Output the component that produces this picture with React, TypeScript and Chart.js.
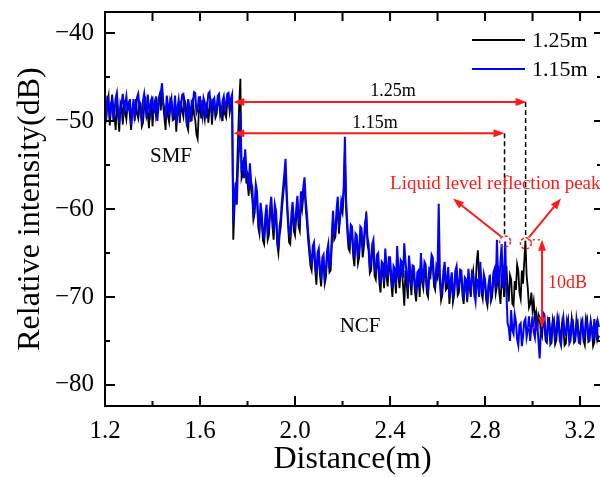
import React, { useEffect, useRef } from "react";
import { Chart, registerables } from "chart.js";

Chart.register(...registerables);

const FONT = "'Liberation Serif', 'Times New Roman', serif";

// sampling grid of the traces (distance in m)
const DIST_START = 1.2;
const DIST_STEP = 0.005;

// relative intensity (dB), one value per sample, 1.200 ... 3.280 m (one row per 0.1 m)
const TRACE_125M = [
  -48.9, -50.0, -48.0, -47.2, -50.5, -48.8, -47.0, -48.5, -49.6, -51.0, -47.8, -49.3, -51.2, -48.0, -48.5, -50.4, -47.6, -49.0, -49.8, -48.2,
  -47.9, -49.5, -51.0, -48.6, -48.3, -50.0, -47.5, -49.2, -49.7, -47.8, -48.0, -50.6, -50.2, -48.4, -47.2, -49.5, -49.0, -50.8, -48.1, -47.6,
  -50.6, -48.4, -47.8, -49.5, -48.9, -47.5, -47.0, -48.8, -46.5, -48.2, -49.6, -51.0, -48.0, -49.4, -50.1, -48.3, -47.5, -49.9, -49.8, -48.0,
  -51.2, -49.0, -48.3, -50.2, -47.7, -48.9, -49.5, -47.6, -48.1, -50.5, -51.0, -48.8, -48.6, -50.0, -47.4, -49.3, -49.9, -51.5, -52.0, -49.0,
  -48.0, -49.7, -47.6, -48.9, -49.8, -48.1, -47.9, -50.2, -48.6, -47.4, -50.4, -48.6, -47.8, -49.6, -49.2, -47.7, -47.6, -49.4, -48.8, -50.0,
  -47.9, -49.2, -49.6, -47.8, -47.3, -49.0, -48.2, -47.5, -63.5, -60.0, -58.0, -56.5, -52.0, -48.0, -45.2, -56.5, -56.0, -54.2, -54.0, -57.0,
  -57.0, -58.5, -55.5, -57.8, -58.8, -61.2, -60.5, -58.0, -59.0, -62.0, -62.8, -60.0, -61.5, -63.6, -64.0, -61.5, -60.0, -63.5, -63.0, -60.5,
  -59.5, -62.0, -63.5, -60.5, -61.0, -64.0, -65.0, -63.0, -62.0, -60.0, -58.5, -57.0, -55.5, -59.0, -61.5, -63.8, -64.0, -61.5, -60.0, -62.5,
  -63.0, -61.0, -59.2, -62.0, -62.5, -59.0, -60.0, -58.5, -57.2, -60.0, -61.5, -63.5, -65.0, -66.5, -67.0, -65.0, -64.5, -67.0, -68.6, -66.0,
  -65.0, -67.5, -68.8, -66.3, -66.0, -68.5, -67.8, -65.5, -64.8, -67.2, -67.0, -64.0, -61.0, -63.5, -63.2, -61.0, -59.5, -62.8, -60.5, -60.0,
  -60.5, -58.5, -53.5, -60.0, -62.5, -64.5, -64.8, -62.5, -63.0, -65.4, -66.5, -63.5, -63.8, -66.2, -65.5, -63.0, -63.0, -65.5, -64.3, -62.5,
  -60.3, -64.0, -64.8, -67.3, -67.0, -65.0, -64.5, -67.6, -68.0, -66.0, -66.0, -68.4, -69.5, -66.8, -67.0, -69.0, -65.2, -67.6, -68.8, -66.3,
  -66.5, -68.4, -70.0, -67.4, -67.8, -69.6, -65.0, -67.6, -69.0, -66.8, -67.0, -68.8, -71.0, -67.0, -68.3, -70.2, -66.0, -68.0, -69.8, -67.2,
  -67.5, -69.4, -70.5, -68.0, -68.0, -70.0, -66.0, -68.3, -69.0, -66.8, -67.2, -69.6, -70.0, -67.6, -67.8, -66.0, -66.2, -68.8, -69.2, -67.3,
  -67.8, -66.0, -68.3, -70.4, -69.8, -67.8, -66.8, -69.2, -69.0, -67.4, -70.8, -69.0, -67.8, -70.6, -69.8, -67.6, -67.0, -69.8, -69.5, -67.5,
  -67.6, -69.8, -70.8, -68.4, -68.5, -70.6, -67.3, -69.0, -70.0, -67.8, -67.0, -69.5, -69.0, -66.0, -64.7, -68.0, -67.2, -69.5, -70.2, -68.0,
  -68.5, -70.4, -71.0, -68.6, -68.0, -70.5, -70.0, -67.8, -67.3, -69.6, -68.8, -66.5, -69.5, -70.8, -68.0, -66.4, -70.0, -68.2, -66.5, -69.0,
  -70.5, -67.5, -68.0, -70.8, -71.0, -68.2, -69.2, -66.3, -67.0, -69.5, -70.2, -67.0, -68.5, -66.0, -63.6, -67.5, -69.0, -71.2, -70.8, -69.5,
  -71.5, -70.5, -72.5, -71.8, -73.8, -72.0, -72.4, -74.0, -74.5, -72.6, -73.0, -75.0, -75.2, -73.3, -72.3, -74.5, -74.0, -72.6, -73.6, -75.4,
  -75.0, -73.2, -72.5, -74.6, -74.2, -72.8, -73.8, -75.5, -75.3, -73.4, -72.6, -74.5, -74.0, -72.4, -73.5, -75.2, -75.0, -73.1, -72.8, -74.7,
  -74.4, -72.8, -73.4, -75.0, -75.5, -73.3, -72.6, -74.4, -74.2, -72.7, -73.7, -75.6, -75.2, -73.4, -72.9, -74.8, -74.4,
];

const TRACE_115M = [
  -48.4, -49.3, -47.1, -48.2, -49.6, -48.0, -47.6, -49.9, -48.9, -47.4, -46.8, -48.7, -50.2, -48.5, -47.9, -46.9, -49.0, -48.1, -47.2, -48.8,
  -48.6, -47.5, -50.4, -48.9, -47.5, -49.5, -48.8, -47.3, -46.9, -48.4, -49.4, -50.0, -47.7, -46.9, -48.3, -49.6, -47.0, -48.5, -49.2, -47.6,
  -47.4, -49.0, -48.6, -47.2, -50.0, -48.4, -47.3, -46.8, -45.7, -47.9, -48.5, -49.8, -47.1, -48.2, -49.3, -47.5, -47.8, -49.4, -48.9, -47.1,
  -50.3, -48.5, -47.6, -49.2, -48.2, -47.0, -46.9, -48.8, -49.0, -50.6, -47.5, -48.4, -50.1, -47.8, -48.0, -46.7, -46.8, -49.1, -48.7, -47.3,
  -47.3, -48.6, -49.5, -47.4, -47.9, -49.7, -48.4, -46.9, -46.7, -48.3, -49.1, -47.6, -47.4, -49.0, -48.6, -47.1, -46.9, -48.5, -49.3, -47.7,
  -47.2, -48.6, -48.0, -46.9, -46.8, -48.3, -47.5, -47.0, -61.5, -58.5, -57.0, -59.5, -55.0, -53.0, -49.0, -55.8, -54.5, -56.5, -53.2, -55.5,
  -56.0, -57.8, -54.8, -56.9, -57.5, -60.5, -59.8, -57.2, -58.0, -61.2, -62.0, -59.3, -60.5, -62.8, -63.2, -60.8, -59.5, -62.5, -61.8, -59.8,
  -58.6, -61.0, -62.5, -59.5, -60.2, -63.0, -64.5, -62.0, -61.0, -59.0, -57.5, -56.0, -54.3, -58.0, -60.8, -62.8, -63.0, -60.5, -59.2, -61.5,
  -62.0, -60.0, -58.5, -61.0, -61.5, -58.0, -59.0, -57.5, -56.4, -59.0, -60.5, -62.5, -64.0, -65.5, -66.5, -64.2, -63.8, -66.0, -67.5, -65.0,
  -64.5, -66.8, -68.0, -65.5, -65.2, -67.8, -67.0, -64.8, -64.0, -66.5, -66.3, -63.0, -60.2, -62.8, -62.5, -60.0, -58.6, -62.0, -61.0, -59.0,
  -59.5, -57.5, -51.8, -59.0, -61.5, -63.5, -64.0, -61.8, -62.0, -64.5, -65.5, -62.8, -63.0, -65.3, -64.8, -62.0, -62.2, -64.6, -63.5, -61.5,
  -60.9, -63.2, -64.0, -66.5, -66.0, -64.0, -63.5, -66.8, -67.2, -65.2, -65.0, -67.5, -68.5, -66.0, -66.2, -68.2, -64.5, -66.8, -67.8, -65.5,
  -65.5, -67.5, -69.0, -66.5, -66.8, -68.6, -64.2, -66.8, -68.0, -65.8, -66.0, -67.8, -63.9, -66.0, -67.5, -69.2, -65.3, -67.0, -68.8, -66.4,
  -66.5, -68.4, -69.5, -67.2, -67.0, -69.0, -65.0, -67.5, -68.2, -66.0, -66.3, -68.8, -69.3, -66.8, -67.0, -65.2, -65.5, -68.0, -68.5, -66.5,
  -67.0, -59.4, -67.5, -69.6, -69.0, -67.0, -66.0, -68.4, -68.3, -66.6, -70.0, -68.2, -67.2, -69.8, -69.2, -67.0, -66.5, -69.0, -68.8, -66.9,
  -67.0, -69.0, -70.3, -67.8, -68.0, -70.2, -66.8, -68.5, -69.5, -67.2, -67.5, -69.6, -70.5, -68.0, -68.2, -70.0, -66.0, -68.6, -69.8, -67.4,
  -68.0, -69.8, -70.8, -68.5, -67.5, -70.0, -69.5, -67.2, -66.8, -69.0, -63.5, -67.8, -68.5, -66.0, -64.0, -69.0, -68.0, -63.7, -69.5, -73.0,
  -73.5, -75.0, -71.5, -73.8, -74.2, -72.0, -72.8, -74.8, -75.5, -73.2, -73.0, -75.6, -74.5, -72.8, -72.5, -74.6, -73.8, -72.2, -75.0, -73.3,
  -72.2, -74.0, -74.6, -72.5, -73.2, -75.0, -77.0, -73.8, -73.5, -71.8, -72.0, -74.4, -74.8, -72.6, -73.0, -75.4, -75.2, -73.0, -72.6, -74.5,
  -74.0, -72.3, -73.0, -75.0, -75.5, -73.4, -72.4, -74.2, -74.3, -72.6, -73.2, -75.3, -75.0, -73.0, -72.8, -74.8, -74.5, -72.5, -73.5, -75.2,
  -75.3, -73.2, -72.7, -74.6, -74.2, -72.4, -73.0, -75.1, -75.0, -73.0, -73.6, -74.9, -72.5, -73.8, -74.6, -72.8, -73.4,
];

const SERIES_NAMES = ["1.25m", "1.15m"];
const SERIES_COLORS = ["#000000", "#0000ff"];

const X_MAJOR = [1.2, 1.6, 2.0, 2.4, 2.8, 3.2];
const X_MINOR = [1.4, 1.8, 2.2, 2.6, 3.0];
const Y_MAJOR = [-40, -50, -60, -70, -80];
const Y_MINOR = [-45, -55, -65, -75];

const X_MIN = 1.2;
const X_MAX = 3.284;
const Y_MIN = -82.4;
const Y_MAX = -37.6;

// annotation anchors, in data units [distance, dB]
const SPAN_START = 1.74;
const SPAN_125_END = [2.975, -47.84];
const SPAN_115_END = [2.882, -51.4];
const PEAK_115 = [2.884, -63.7];
const PEAK_125 = [2.972, -63.9];
const SPAN_LABEL_125 = [2.413, -46.6];
const SPAN_LABEL_115 = [2.337, -50.2];
const PEAK_TEXT = [2.4, -57.2];
const PEAK_ARROW_A = [2.665, -58.8];
const PEAK_ARROW_B = [3.12, -58.8];
const DROP_X = 3.04;
const DROP_TOP = -63.5;
const DROP_BOTTOM = -73.5;
const DROP_GUIDE_START = 2.98;
const DROP_TEXT = [3.065, -68.4];
const SMF_TEXT = [1.478, -54.0];
const NCF_TEXT = [2.274, -73.4];

const RED = "#ff1a1a";

function buildPoints(values: number[]) {
  return values.map((v, i) => ({ x: +(DIST_START + i * DIST_STEP).toFixed(4), y: v }));
}

function arrow(ctx: CanvasRenderingContext2D, x0: number, y0: number, x1: number, y1: number, both: boolean) {
  const head = 11;
  const half = 4;
  const ang = Math.atan2(y1 - y0, x1 - x0);
  ctx.beginPath();
  ctx.moveTo(x0 + (both ? Math.cos(ang) * head * 0.8 : 0), y0 + (both ? Math.sin(ang) * head * 0.8 : 0));
  ctx.lineTo(x1 - Math.cos(ang) * head * 0.8, y1 - Math.sin(ang) * head * 0.8);
  ctx.stroke();
  const tri = (tx: number, ty: number, a: number) => {
    ctx.beginPath();
    ctx.moveTo(tx, ty);
    ctx.lineTo(tx - Math.cos(a) * head - Math.sin(a) * half, ty - Math.sin(a) * head + Math.cos(a) * half);
    ctx.lineTo(tx - Math.cos(a) * head + Math.sin(a) * half, ty - Math.sin(a) * head - Math.cos(a) * half);
    ctx.closePath();
    ctx.fill();
  };
  tri(x1, y1, ang);
  if (both) tri(x0, y0, ang + Math.PI);
}

const framePlugin = {
  id: "frame",
  afterDraw(chart: any) {
    const { ctx, chartArea: a, scales } = chart;
    const xs = scales.x;
    const ys = scales.y;
    const rightAxis = a.right + 4;
    ctx.save();
    ctx.strokeStyle = "#000";
    ctx.lineWidth = 2;
    ctx.beginPath();
    ctx.moveTo(a.left, a.top);
    ctx.lineTo(a.left, a.bottom);
    ctx.moveTo(a.left - 1, a.bottom);
    ctx.lineTo(rightAxis, a.bottom);
    ctx.moveTo(a.left - 1, a.top);
    ctx.lineTo(rightAxis, a.top);
    ctx.moveTo(rightAxis, a.top);
    ctx.lineTo(rightAxis, a.bottom);
    ctx.stroke();

    ctx.beginPath();
    X_MAJOR.forEach((v) => {
      const px = xs.getPixelForValue(v);
      ctx.moveTo(px, a.bottom);
      ctx.lineTo(px, a.bottom - 10);
      ctx.moveTo(px, a.top);
      ctx.lineTo(px, a.top + 9);
    });
    X_MINOR.forEach((v) => {
      const px = xs.getPixelForValue(v);
      ctx.moveTo(px, a.bottom);
      ctx.lineTo(px, a.bottom - 5);
      ctx.moveTo(px, a.top);
      ctx.lineTo(px, a.top + 9);
    });
    Y_MAJOR.forEach((v) => {
      const py = ys.getPixelForValue(v);
      ctx.moveTo(a.left, py);
      ctx.lineTo(a.left + 10, py);
      ctx.moveTo(rightAxis, py);
      ctx.lineTo(rightAxis - 10, py);
    });
    Y_MINOR.forEach((v) => {
      const py = ys.getPixelForValue(v);
      ctx.moveTo(a.left, py);
      ctx.lineTo(a.left + 5, py);
      ctx.moveTo(rightAxis, py);
      ctx.lineTo(rightAxis - 7, py);
    });
    ctx.stroke();

    // legend
    const ds = chart.data.datasets;
    ctx.font = `22px ${FONT}`;
    ctx.textBaseline = "middle";
    ctx.textAlign = "left";
    [0, 1].forEach((i) => {
      const y = a.top + 28 + i * 29;
      ctx.strokeStyle = ds[i].borderColor;
      ctx.lineWidth = 2;
      ctx.beginPath();
      ctx.moveTo(a.right - 128, y);
      ctx.lineTo(a.right - 75, y);
      ctx.stroke();
      ctx.fillStyle = "#000";
      ctx.fillText(ds[i].label, a.right - 68, y + 1);
    });
    ctx.restore();
  },
};

const annotationPlugin = {
  id: "annotations",
  afterDatasetsDraw(chart: any) {
    const { ctx, scales } = chart;
    const X = (v: number) => scales.x.getPixelForValue(v);
    const Y = (v: number) => scales.y.getPixelForValue(v);
    ctx.save();

    // dashed drop lines
    ctx.strokeStyle = "#000";
    ctx.lineWidth = 1.5;
    ctx.setLineDash([5, 3]);
    ctx.beginPath();
    ctx.moveTo(X(SPAN_125_END[0]) - 1, Y(SPAN_125_END[1]));
    ctx.lineTo(X(SPAN_125_END[0]) - 1, Y(PEAK_125[1]) - 6);
    ctx.moveTo(X(SPAN_115_END[0]), Y(SPAN_115_END[1]));
    ctx.lineTo(X(SPAN_115_END[0]), Y(PEAK_115[1]) - 6);
    ctx.stroke();
    ctx.setLineDash([]);

    // span arrows
    ctx.strokeStyle = RED;
    ctx.fillStyle = RED;
    ctx.lineWidth = 2;
    arrow(ctx, X(SPAN_START), Y(SPAN_125_END[1]), X(SPAN_125_END[0]), Y(SPAN_125_END[1]), true);
    arrow(ctx, X(SPAN_START), Y(SPAN_115_END[1]), X(SPAN_115_END[0]), Y(SPAN_115_END[1]), true);

    // peak circles
    ctx.lineWidth = 1.5;
    ctx.setLineDash([3, 2]);
    [PEAK_115, PEAK_125].forEach((p) => {
      ctx.beginPath();
      ctx.arc(X(p[0]), Y(p[1]), 5.5, 0, Math.PI * 2);
      ctx.stroke();
    });
    ctx.setLineDash([]);

    // arrows to label
    ctx.lineWidth = 2;
    arrow(ctx, X(PEAK_115[0]) - 4, Y(PEAK_115[1]) - 5, X(PEAK_ARROW_A[0]), Y(PEAK_ARROW_A[1]), false);
    arrow(ctx, X(PEAK_125[0]) + 3, Y(PEAK_125[1]) - 6, X(PEAK_ARROW_B[0]), Y(PEAK_ARROW_B[1]), false);

    // 10 dB arrow
    arrow(ctx, X(DROP_X), Y(DROP_TOP), X(DROP_X), Y(DROP_BOTTOM), true);
    ctx.lineWidth = 1.5;
    ctx.setLineDash([2, 3]);
    ctx.beginPath();
    ctx.moveTo(X(DROP_GUIDE_START), Y(DROP_TOP));
    ctx.lineTo(X(DROP_X), Y(DROP_TOP));
    ctx.moveTo(X(DROP_GUIDE_START), Y(DROP_BOTTOM));
    ctx.lineTo(X(DROP_X), Y(DROP_BOTTOM));
    ctx.stroke();
    ctx.setLineDash([]);

    // texts
    ctx.textBaseline = "middle";
    ctx.fillStyle = RED;
    ctx.textAlign = "left";
    ctx.font = `19px ${FONT}`;
    ctx.fillText("Liquid level reflection peak", X(PEAK_TEXT[0]), Y(PEAK_TEXT[1]));
    ctx.font = `18px ${FONT}`;
    ctx.fillText("10dB", X(DROP_TEXT[0]), Y(DROP_TEXT[1]));

    ctx.fillStyle = "#000";
    ctx.textAlign = "center";
    ctx.font = `18px ${FONT}`;
    ctx.fillText("1.25m", X(SPAN_LABEL_125[0]), Y(SPAN_LABEL_125[1]));
    ctx.fillText("1.15m", X(SPAN_LABEL_115[0]), Y(SPAN_LABEL_115[1]));
    ctx.font = `21px ${FONT}`;
    ctx.fillText("SMF", X(SMF_TEXT[0]), Y(SMF_TEXT[1]));
    ctx.fillText("NCF", X(NCF_TEXT[0]), Y(NCF_TEXT[1]));
    ctx.restore();
  },
};

export default function App() {
  const ref = useRef<HTMLCanvasElement | null>(null);

  useEffect(() => {
    if (!ref.current) return;
    const chart = new Chart(ref.current, {
      type: "line",
      data: {
        datasets: [
          {
            label: SERIES_NAMES[0],
            data: buildPoints(TRACE_125M),
            borderColor: SERIES_COLORS[0],
            borderWidth: 1.8,
            pointRadius: 0,
            tension: 0,
            order: 2,
          },
          {
            label: SERIES_NAMES[1],
            data: buildPoints(TRACE_115M),
            borderColor: SERIES_COLORS[1],
            borderWidth: 2,
            pointRadius: 0,
            tension: 0,
            order: 1,
          },
        ],
      },
      options: {
        responsive: false,
        animation: false,
        devicePixelRatio: 1,
        layout: { padding: { top: 12, left: 0, right: 0, bottom: 0 } },
        plugins: { legend: { display: false }, tooltip: { enabled: false } },
        scales: {
          x: {
            type: "linear",
            min: X_MIN,
            max: X_MAX,
            grid: { display: false, drawTicks: false },
            border: { display: false },
            afterBuildTicks: (s: any) => {
              s.ticks = X_MAJOR.map((v) => ({ value: v }));
            },
            afterFit: (s: any) => {
              s.height = 71;
              s.paddingLeft = 0;
              s.paddingRight = 0;
            },
            ticks: {
              color: "#000",
              font: { family: FONT, size: 25 },
              padding: 10,
              maxRotation: 0,
              autoSkip: false,
              callback: (v: any) => Number(v).toFixed(1),
            },
            title: {
              display: true,
              text: "Distance(m)",
              color: "#000",
              font: { family: FONT, size: 32, lineHeight: 1 },
              padding: { top: 0, bottom: 1 },
            },
          },
          y: {
            type: "linear",
            min: Y_MIN,
            max: Y_MAX,
            grid: { display: false, drawTicks: false },
            border: { display: false },
            afterBuildTicks: (s: any) => {
              s.ticks = Y_MAJOR.map((v) => ({ value: v }));
            },
            afterFit: (s: any) => {
              s.width = 105;
              s.paddingTop = 0;
              s.paddingBottom = 0;
            },
            ticks: {
              color: "#000",
              font: { family: FONT, size: 25 },
              padding: 11,
              autoSkip: false,
              callback: (v: any) => (Number(v) < 0 ? "\u2212" + Math.abs(Number(v)) : String(v)),
            },
            title: {
              display: true,
              text: "Relative intensity(dB)",
              color: "#000",
              font: { family: FONT, size: 32, lineHeight: 1 },
              padding: { top: 15, bottom: 0 },
            },
          },
        },
      },
      plugins: [annotationPlugin, framePlugin],
    } as any);
    return () => chart.destroy();
  }, []);

  return (
    <div style={{ position: "fixed", left: 0, top: 0, width: 600, height: 477, background: "#fff" }}>
      <canvas ref={ref} width={600} height={477} style={{ display: "block" }} />
    </div>
  );
}
